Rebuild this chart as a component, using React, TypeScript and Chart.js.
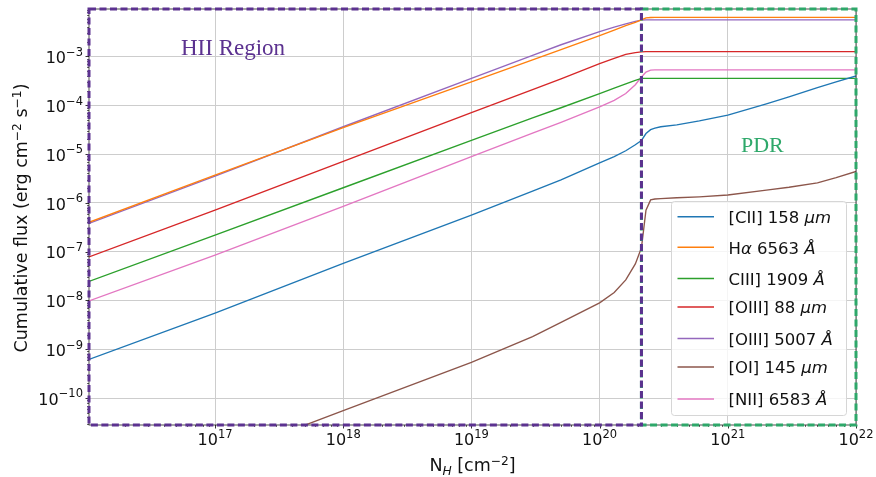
import React, { useEffect, useRef } from 'react';
import { Chart, registerables } from 'chart.js';

Chart.register(...registerables);

// ---------- data ----------
const columnDensity = [
  1.04e16, 1e17, 1e18, 1e19, 3e19, 5e19, 1e20, 1.3e20, 1.6e20, 1.9e20, 2.12e20, 2.3e20,
  2.5e20, 2.7e20, 3e20, 4e20, 6e20, 1e21, 2e21, 3e21, 5e21, 7e21, 1e22,
];

const fluxCII = [
  6.2e-10, 5.5e-9, 5.75e-8, 5.6e-7, 1.74e-6, 2.95e-6, 6.6e-6, 8.9e-6, 1.17e-5, 1.55e-5, 1.9e-5, 2.63e-5,
  3.16e-5, 3.39e-5, 3.63e-5, 3.98e-5, 4.79e-5, 6.3e-5, 1.07e-4, 1.48e-4, 2.29e-4, 3.02e-4, 3.98e-4,
];
const fluxHalpha = [
  4.0e-7, 3.72e-6, 3.47e-5, 3.02e-4, 8.5e-4, 1.38e-3, 2.69e-3, 3.47e-3, 4.27e-3, 5.0e-3, 5.6e-3, 6.2e-3,
  6.3e-3, 6.35e-3, 6.35e-3, 6.35e-3, 6.35e-3, 6.35e-3, 6.35e-3, 6.35e-3, 6.35e-3, 6.35e-3, 6.35e-3,
];
const fluxCIII = [
  2.45e-8, 2.19e-7, 2.04e-6, 1.91e-5, 5.5e-5, 8.9e-5, 1.74e-4, 2.24e-4, 2.75e-4, 3.24e-4, 3.55e-4, 3.55e-4,
  3.55e-4, 3.55e-4, 3.55e-4, 3.55e-4, 3.55e-4, 3.55e-4, 3.55e-4, 3.55e-4, 3.55e-4, 3.55e-4, 3.55e-4,
];
const fluxOIII88 = [
  7.8e-8, 7.1e-7, 7.1e-6, 7.1e-5, 2.09e-4, 3.47e-4, 7.1e-4, 9.1e-4, 1.1e-3, 1.2e-3, 1.245e-3, 1.26e-3,
  1.26e-3, 1.26e-3, 1.26e-3, 1.26e-3, 1.26e-3, 1.26e-3, 1.26e-3, 1.26e-3, 1.26e-3, 1.26e-3, 1.26e-3,
];
const fluxOIII5007 = [
  3.8e-7, 3.55e-6, 3.63e-5, 3.55e-4, 1.05e-3, 1.74e-3, 3.24e-3, 3.98e-3, 4.68e-3, 5.25e-3, 5.56e-3, 5.62e-3,
  5.62e-3, 5.62e-3, 5.62e-3, 5.62e-3, 5.62e-3, 5.62e-3, 5.62e-3, 5.62e-3, 5.62e-3, 5.62e-3, 5.62e-3,
];
const fluxOI145 = [
  6.3e-13, 5.6e-12, 5.5e-11, 5.4e-10, 1.82e-9, 3.55e-9, 8.9e-9, 1.45e-8, 2.63e-8, 5.6e-8, 1.2e-7, 7.1e-7,
  1.15e-6, 1.2e-6, 1.22e-6, 1.27e-6, 1.33e-6, 1.45e-6, 1.82e-6, 2.09e-6, 2.57e-6, 3.3e-6, 4.4e-6,
];
const fluxNII = [
  9.8e-9, 8.5e-8, 8.5e-7, 8.9e-6, 2.69e-5, 4.47e-5, 9.3e-5, 1.26e-4, 1.74e-4, 2.63e-4, 3.8e-4, 4.8e-4,
  5.25e-4, 5.3e-4, 5.3e-4, 5.3e-4, 5.3e-4, 5.3e-4, 5.3e-4, 5.3e-4, 5.3e-4, 5.3e-4, 5.3e-4,
];

// labels: text between $...$ is italic (math)
const seriesLabels = [
  '[CII] 158 $μm$',
  'H$α$ 6563 $Å$',
  'CIII] 1909 $Å$',
  '[OIII] 88 $μm$',
  '[OIII] 5007 $Å$',
  '[OI] 145 $μm$',
  '[NII] 6583 $Å$',
];
const seriesValues = [fluxCII, fluxHalpha, fluxCIII, fluxOIII88, fluxOIII5007, fluxOI145, fluxNII];
const seriesColors = ['#1f77b4', '#ff7f0e', '#2ca02c', '#d62728', '#9467bd', '#8c564b', '#e377c2'];

const xMin = 1.04e16;
const xMax = 1e22;
const yMin = 2.8e-11;
const yMax = 9.4e-3;
const xMajorTicks = [1e17, 1e18, 1e19, 1e20, 1e21, 1e22];
const yMajorTicks = [1e-10, 1e-9, 1e-8, 1e-7, 1e-6, 1e-5, 1e-4, 1e-3];
const regionBoundary = 2.12e20;
const hiiLabel = 'HII Region';
const pdrLabel = 'PDR';
const xTitle = { base: 'N', sub: 'H', rest: ' [cm', sup: '−2', end: ']' };
const yTitleParts = ['Cumulative flux (erg cm', '−2', ' s', '−1', ')'];

// ---------- drawing helpers ----------
const FONT = '"DejaVu Sans", "Noto Sans", sans-serif';
type Part = { text: string; size: number; italic?: boolean; dy?: number; family?: string };

function fontOf(p: Part) {
  return `${p.italic ? 'italic ' : ''}${p.size}px ${p.family || FONT}`;
}

function drawParts(ctx: CanvasRenderingContext2D, parts: Part[], x: number, y: number, align: 'left' | 'center' | 'right') {
  ctx.textAlign = 'left';
  ctx.textBaseline = 'alphabetic';
  const widths = parts.map((p) => {
    ctx.font = fontOf(p);
    return ctx.measureText(p.text).width;
  });
  const total = widths.reduce((a, b) => a + b, 0);
  let cx = align === 'center' ? x - total / 2 : align === 'right' ? x - total : x;
  parts.forEach((p, i) => {
    ctx.font = fontOf(p);
    ctx.fillText(p.text, cx, y + (p.dy || 0));
    cx += widths[i];
  });
}

function powerParts(v: number, size: number, supSize: number, raise: number): Part[] {
  const e = Math.round(Math.log10(v));
  const es = String(e).replace('-', '−');
  return [
    { text: '10', size },
    { text: es, size: supSize, dy: -raise },
  ];
}

function labelParts(label: string, size: number): Part[] {
  const segs = label.split('$');
  return segs
    .map((s, i) => ({ text: s, size, italic: i % 2 === 1 }))
    .filter((p) => p.text.length > 0);
}

const overlayPlugin = {
  id: 'overlay',
  afterDraw(chart: any) {
    const ctx: CanvasRenderingContext2D = chart.ctx;
    const xs = chart.scales.x;
    const ys = chart.scales.y;
    const { left, right, top, bottom } = chart.chartArea;
    ctx.save();

    // spine
    ctx.strokeStyle = '#222';
    ctx.lineWidth = 0.8;
    ctx.setLineDash([]);
    ctx.strokeRect(left, top, right - left, bottom - top);

    // ticks
    ctx.strokeStyle = '#000';
    ctx.lineWidth = 0.8;
    xMajorTicks.forEach((v) => {
      const px = Math.round(xs.getPixelForValue(v)) + 0.5;
      ctx.beginPath();
      ctx.moveTo(px, bottom);
      ctx.lineTo(px, bottom + 3.5);
      ctx.stroke();
    });
    yMajorTicks.forEach((v) => {
      const py = Math.round(ys.getPixelForValue(v)) + 0.5;
      ctx.beginPath();
      ctx.moveTo(left, py);
      ctx.lineTo(left - 3.5, py);
      ctx.stroke();
    });
    ctx.lineWidth = 0.6;
    for (let e = 16; e <= 21; e++) {
      for (let k = 2; k <= 9; k++) {
        const v = k * Math.pow(10, e);
        if (v < xMin || v > xMax) continue;
        const px = Math.round(xs.getPixelForValue(v)) + 0.5;
        ctx.beginPath();
        ctx.moveTo(px, bottom);
        ctx.lineTo(px, bottom + 2);
        ctx.stroke();
      }
    }
    for (let e = -11; e <= -3; e++) {
      for (let k = 2; k <= 9; k++) {
        const v = k * Math.pow(10, e);
        if (v < yMin || v > yMax) continue;
        const py = Math.round(ys.getPixelForValue(v)) + 0.5;
        ctx.beginPath();
        ctx.moveTo(left, py);
        ctx.lineTo(left - 2, py);
        ctx.stroke();
      }
    }

    // region rectangles
    const bx = xs.getPixelForValue(regionBoundary);
    const x0 = xs.getPixelForValue(xMin);
    const x1 = xs.getPixelForValue(xMax);
    ctx.lineWidth = 3;
    ctx.setLineDash([7, 3.5]);
    ctx.strokeStyle = '#2ea86a';
    ctx.strokeRect(bx, top, x1 - bx, bottom - top);
    ctx.strokeStyle = '#5c3290';
    ctx.strokeRect(x0, top, bx - x0, bottom - top);
    ctx.setLineDash([]);

    // tick labels
    ctx.fillStyle = '#111';
    xMajorTicks.forEach((v) => {
      const px = xs.getPixelForValue(v);
      drawParts(ctx, powerParts(v, 16, 11.5, 7.5), px, 445, 'center');
    });
    yMajorTicks.forEach((v) => {
      const py = ys.getPixelForValue(v);
      drawParts(ctx, powerParts(v, 16, 11.5, 7.5), 83, py + 6.8, 'right');
    });

    // axis titles
    const ts = 17.5;
    drawParts(
      ctx,
      [
        { text: xTitle.base, size: ts },
        { text: xTitle.sub, size: ts * 0.7, italic: true, dy: 3.5 },
        { text: xTitle.rest, size: ts },
        { text: xTitle.sup, size: ts * 0.7, dy: -6.5 },
        { text: xTitle.end, size: ts },
      ],
      (left + right) / 2,
      471,
      'center'
    );
    ctx.save();
    ctx.translate(27, (top + bottom) / 2 + 1);
    ctx.rotate(-Math.PI / 2);
    drawParts(
      ctx,
      [
        { text: yTitleParts[0], size: ts },
        { text: yTitleParts[1], size: ts * 0.7, dy: -6.5 },
        { text: yTitleParts[2], size: ts },
        { text: yTitleParts[3], size: ts * 0.7, dy: -6.5 },
        { text: yTitleParts[4], size: ts },
      ],
      0,
      0,
      'center'
    );
    ctx.restore();

    // region annotations
    ctx.fillStyle = '#5c3290';
    drawParts(ctx, [{ text: hiiLabel, size: 23, family: '"Liberation Serif", serif' }], 181, 54.5, 'left');
    ctx.fillStyle = '#2ea86a';
    drawParts(ctx, [{ text: pdrLabel, size: 22, family: '"Liberation Serif", serif' }], 741, 151.5, 'left');

    // legend
    const lx = 671.5;
    const ly = 201.5;
    const lw = 175;
    const lh = 214;
    const r = 3;
    ctx.beginPath();
    ctx.moveTo(lx + r, ly);
    ctx.lineTo(lx + lw - r, ly);
    ctx.arcTo(lx + lw, ly, lx + lw, ly + r, r);
    ctx.lineTo(lx + lw, ly + lh - r);
    ctx.arcTo(lx + lw, ly + lh, lx + lw - r, ly + lh, r);
    ctx.lineTo(lx + r, ly + lh);
    ctx.arcTo(lx, ly + lh, lx, ly + lh - r, r);
    ctx.lineTo(lx, ly + r);
    ctx.arcTo(lx, ly, lx + r, ly, r);
    ctx.closePath();
    ctx.fillStyle = 'rgba(255,255,255,0.8)';
    ctx.fill();
    ctx.strokeStyle = '#d6d6d6';
    ctx.lineWidth = 1;
    ctx.stroke();

    const rowY = [216.7, 247.3, 278.5, 307, 338.5, 367, 399];
    seriesLabels.forEach((lab, i) => {
      const y = rowY[i];
      ctx.strokeStyle = seriesColors[i];
      ctx.lineWidth = 1.4;
      ctx.beginPath();
      ctx.moveTo(677.5, y);
      ctx.lineTo(714, y);
      ctx.stroke();
      ctx.fillStyle = '#111';
      drawParts(ctx, labelParts(lab, 16.5), 728.5, y + 6.3, 'left');
    });

    ctx.restore();
  },
};

export default function App() {
  const canvasRef = useRef<HTMLCanvasElement | null>(null);

  useEffect(() => {
    const canvas = canvasRef.current;
    if (!canvas) return;
    const datasets = seriesValues.map((vals, i) => ({
      label: seriesLabels[i].replace(/\$/g, ''),
      data: columnDensity.map((x, j) => ({ x, y: vals[j] })),
      borderColor: seriesColors[i],
      backgroundColor: seriesColors[i],
      borderWidth: 1.35,
      pointRadius: 0,
      showLine: true,
      fill: false,
      tension: 0,
    }));

    const chart = new Chart(canvas, {
      type: 'scatter',
      data: { datasets },
      options: {
        animation: false,
        responsive: false,
        devicePixelRatio: 1,
        maintainAspectRatio: false,
        layout: { padding: { top: 9, right: 20, left: 0, bottom: 0 } },
        plugins: {
          legend: { display: false },
          tooltip: { enabled: false },
          title: { display: false },
        },
        scales: {
          x: {
            type: 'logarithmic',
            min: xMin,
            max: xMax,
            afterBuildTicks: (scale: any) => {
              scale.ticks = xMajorTicks.map((v) => ({ value: v }));
            },
            afterFit: (scale: any) => {
              scale.height = 52;
            },
            ticks: { display: false },
            grid: { color: '#cdcdcd', lineWidth: 1, drawTicks: false },
            border: { display: false },
          },
          y: {
            type: 'logarithmic',
            min: yMin,
            max: yMax,
            afterBuildTicks: (scale: any) => {
              scale.ticks = yMajorTicks.map((v) => ({ value: v }));
            },
            afterFit: (scale: any) => {
              scale.width = 89;
            },
            ticks: { display: false },
            grid: { color: '#cdcdcd', lineWidth: 1, drawTicks: false },
            border: { display: false },
          },
        },
      },
      plugins: [overlayPlugin],
    } as any);

    return () => chart.destroy();
  }, []);

  return (
    <div style={{ position: 'absolute', left: 0, top: 0, width: 876, height: 477, background: '#fff' }}>
      <canvas ref={canvasRef} width={876} height={477} style={{ display: 'block' }} />
    </div>
  );
}
